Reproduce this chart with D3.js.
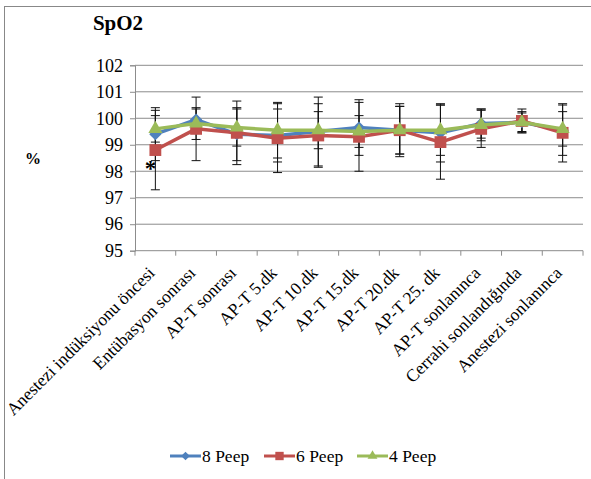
<!DOCTYPE html>
<html lang="en">
<head>
<meta charset="UTF-8">
<title>SpO2</title>
<style>
  body { margin: 0; background: #fff; }
  svg text { font-family: "Liberation Serif", "Times New Roman", serif; fill: #000; }
</style>
<script src="https://d3js.org/d3.v7.min.js"></script>
</head>
<body>
<script>
const categories = ["Anestezi indüksiyonu öncesi", "Entübasyon sonrası", "AP-T sonrası", "AP-T 5.dk",
  "AP-T 10.dk", "AP-T 15.dk", "AP-T 20.dk", "AP-T 25. dk", "AP-T sonlanınca",
  "Cerrahi sonlandığında", "Anestezi sonlanınca"];
const peep8 = [99.4, 99.95, 99.4, 99.35, 99.5, 99.65, 99.55, 99.45, 99.8, 99.85, 99.55];
const peep8Sd = [1.0, 0.4, 1.0, 1.0, 1.3, 1.05, 0.9, 1.1, 0.55, 0.4, 0.95];
const peep6 = [98.8, 99.6, 99.45, 99.25, 99.35, 99.3, 99.55, 99.1, 99.6, 99.9, 99.45];
const peep6Sd = [1.5, 1.2, 1.2, 1.3, 1.2, 1.3, 1.0, 1.4, 0.7, 0.45, 1.1];
const peep4 = [99.6, 99.8, 99.65, 99.55, 99.55, 99.5, 99.55, 99.55, 99.75, 99.85, 99.6];
const peep4Sd = [0.5, 0.6, 0.7, 1.05, 0.7, 0.6, 0.9, 0.95, 0.6, 0.35, 0.65];
const yTicks = [95, 96, 97, 98, 99, 100, 101, 102];

const series = [
  { name: "8 Peep", values: peep8, sd: peep8Sd, color: "#4F81BD", shape: d3.symbolSquare, size: 75, rot: 45 },
  { name: "6 Peep", values: peep6, sd: peep6Sd, color: "#C0504D", shape: d3.symbolSquare, size: 140, rot: 0 },
  { name: "4 Peep", values: peep4, sd: peep4Sd, color: "#9BBB59", shape: d3.symbolTriangle, size: 85, rot: 0 }
];

const W = 591, H = 479;
const svg = d3.select("body").append("svg").attr("width", W).attr("height", H);

// outer chart frame
svg.append("rect").attr("x", 4.5).attr("y", 6.5).attr("width", 600).attr("height", 500)
  .attr("fill", "none").attr("stroke", "#888").attr("stroke-width", 1);

const plot = { left: 135, right: 583, top: 65.3, bottom: 250.7 };

const x = d3.scaleBand().domain(categories).range([plot.left, plot.right]);
const y = d3.scaleLinear().domain([95, 102]).range([plot.bottom, plot.top]);

// gridlines
svg.append("g").selectAll("line").data(yTicks.filter(t => t > 95)).join("line")
  .attr("x1", plot.left).attr("x2", plot.right)
  .attr("y1", d => y(d)).attr("y2", d => y(d))
  .attr("stroke", "#8c8c8c").attr("stroke-width", 1);

// y axis
const yAxis = svg.append("g").attr("transform", `translate(${plot.left},0)`)
  .call(d3.axisLeft(y).tickValues(yTicks).tickFormat(d3.format("d")).tickSize(5).tickPadding(7))
  .attr("font-family", null).attr("font-size", null);
yAxis.select(".domain").attr("stroke", "#8c8c8c");
yAxis.selectAll(".tick line").attr("stroke", "#8c8c8c");
yAxis.selectAll(".tick text").style("font-size", "18px");

// x axis
const boundaries = categories.map((c, i) => plot.left + i * x.bandwidth()).concat([plot.right]);
const xg = svg.append("g");
xg.append("line").attr("x1", plot.left).attr("x2", plot.right)
  .attr("y1", plot.bottom).attr("y2", plot.bottom).attr("stroke", "#8c8c8c");
xg.selectAll("line.tk").data(boundaries).join("line").attr("class", "tk")
  .attr("x1", d => d).attr("x2", d => d).attr("y1", plot.bottom).attr("y2", plot.bottom + 5)
  .attr("stroke", "#8c8c8c");
xg.selectAll("text").data(categories).join("text")
  .attr("transform", d => `translate(${x(d) + x.bandwidth() / 2 - 4},${plot.bottom + 19}) rotate(-45)`)
  .attr("text-anchor", "end").attr("dy", "0.35em")
  .style("font-size", "17.5px").text(d => d);

const cx = d => x(d) + x.bandwidth() / 2;
const line = d3.line().x((v, i) => cx(categories[i])).y(v => y(v));

series.forEach(s => {
  // error bars
  const eb = svg.append("g").attr("stroke", "#111").attr("stroke-width", 1);
  s.values.forEach((v, i) => {
    const px = cx(categories[i]);
    const lo = y(v - s.sd[i]), hi = y(v + s.sd[i]);
    eb.append("line").attr("x1", px).attr("x2", px).attr("y1", lo).attr("y2", hi);
    eb.append("line").attr("x1", px - 4.5).attr("x2", px + 4.5).attr("y1", lo).attr("y2", lo);
    eb.append("line").attr("x1", px - 4.5).attr("x2", px + 4.5).attr("y1", hi).attr("y2", hi);
  });
});

series.forEach(s => {
  svg.append("path").datum(s.values).attr("d", line)
    .attr("fill", "none").attr("stroke", s.color).attr("stroke-width", 3.5);
  svg.append("g").selectAll("path").data(s.values).join("path")
    .attr("d", d3.symbol().type(s.shape).size(s.size))
    .attr("transform", (v, i) => `translate(${cx(categories[i])},${y(v)}) rotate(${s.rot})`)
    .attr("fill", s.color);
});

// significance mark
svg.append("text").attr("x", 150.5).attr("y", 176)
  .attr("text-anchor", "middle")
  .style("font-size", "23px").style("font-weight", "bold").text("*");

// title and axis label
svg.append("text").attr("x", 118).attr("y", 30).attr("text-anchor", "middle")
  .style("font-size", "21px").style("font-weight", "bold").text("SpO2");
svg.append("text").attr("x", 33).attr("y", 164).attr("text-anchor", "middle")
  .style("font-size", "16px").style("font-weight", "bold").text("%");

// legend
const legendX = [170, 264, 357];
const lg = svg.append("g");
series.forEach((s, i) => {
  const g = lg.append("g").attr("transform", `translate(${legendX[i]},456)`);
  g.append("line").attr("x1", 0).attr("x2", 31).attr("stroke", s.color).attr("stroke-width", 3);
  g.append("path").attr("d", d3.symbol().type(s.shape).size(s.size * 0.5))
    .attr("transform", `translate(15.5,0) rotate(${s.rot})`).attr("fill", s.color);
  g.append("text").attr("x", 32).attr("dy", "0.35em").style("font-size", "17.5px").text(s.name);
});
</script>
</body>
</html>
